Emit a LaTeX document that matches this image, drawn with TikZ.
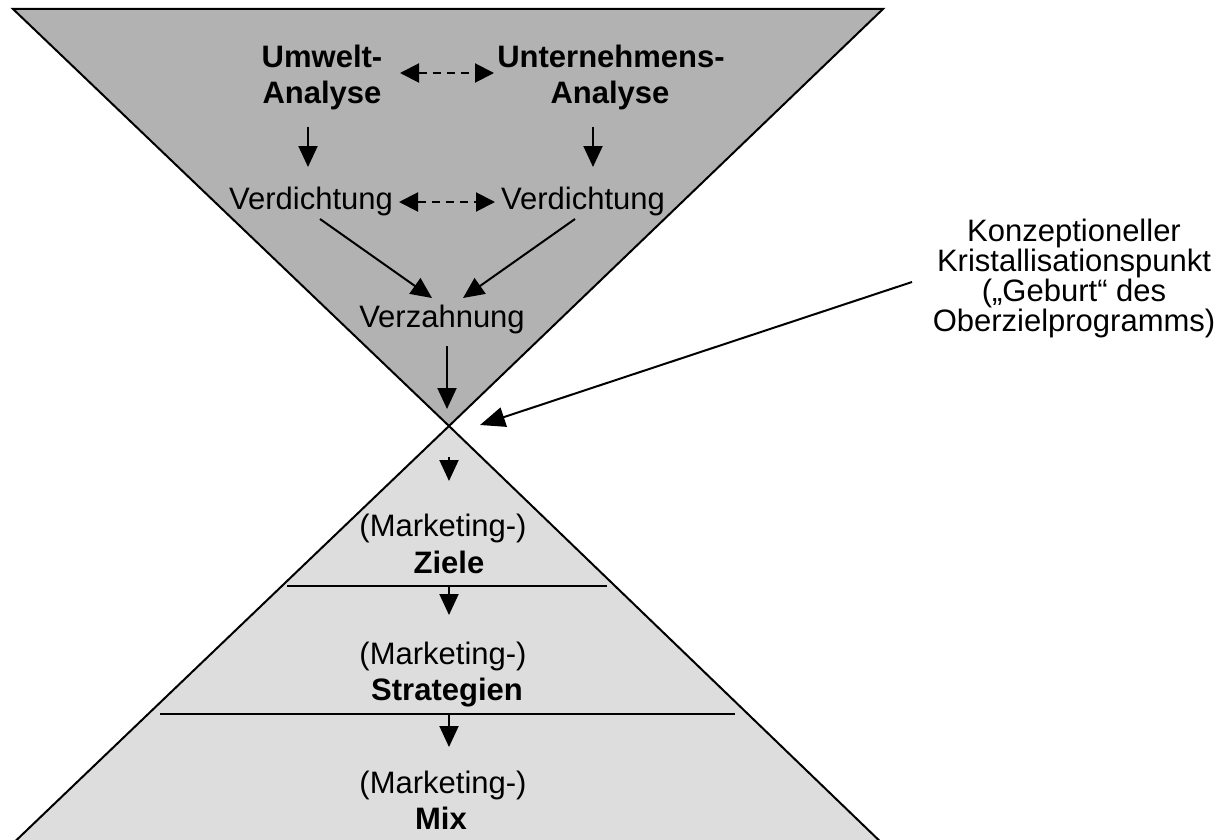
\documentclass[tikz,border=0pt]{standalone}
\usepackage{fontspec}
\setmainfont{Liberation Sans}
\usetikzlibrary{arrows.meta}
\definecolor{funnelgray}{gray}{0.70}
\definecolor{pyramidgray}{gray}{0.867}
\begin{document}
\begin{tikzpicture}[x=1pt,y=-1pt,
  txt/.style={inner sep=0pt, anchor=base, font=\fontsize{31}{36}\selectfont},
  btxt/.style={inner sep=0pt, anchor=base, font=\fontsize{31}{36}\selectfont\bfseries},
  flow/.style={line width=2pt, -{Triangle[length=21pt,width=19pt]}},
  link/.style={line width=2pt, dash pattern=on 8pt off 6pt,
    {Triangle[length=19pt,width=19pt]}-{Triangle[length=19pt,width=19pt]}},
  outline/.style={draw=black, line width=2pt, line join=miter}
]
\useasboundingbox (0,0) rectangle (1228,840);

% lower pyramid (cut at the bottom edge)
\begin{scope}
  \clip (0,0) rectangle (1228,840);
  \path[outline, fill=pyramidgray] (449,426) -- (-20,875) -- (915,875) -- cycle;
\end{scope}
% upper funnel
\path[outline, fill=funnelgray] (13,9) -- (883,9) -- (449,426) -- cycle;

% level separators in the pyramid
\draw[line width=2pt] (287,586) -- (607,586);
\draw[line width=2pt] (160,714) -- (735,714);

% analysis texts
\node[btxt] (uw1) at (322,68) {Umwelt-};
\node[btxt] (uw2) at (322,104) {Analyse};
\node[btxt] (un1) at (611,68) {Unternehmens-};
\node[btxt] (un2) at (610,104) {Analyse};
\node[txt] (vl) at (311,209) {Verdichtung};
\node[txt] (vr) at (583,209) {Verdichtung};
\node[txt] (vz) at (442,327) {Verzahnung};

% pyramid texts
\node[txt]  (m1) at (443,536) {(Marketing-)};
\node[btxt] (z)  at (449,573) {Ziele};
\node[txt]  (m2) at (443,664) {(Marketing-)};
\node[btxt] (s)  at (447,700) {Strategien};
\node[txt]  (m3) at (443,793) {(Marketing-)};
\node[btxt] (mx) at (441,829) {Mix};

% annotation (base anchor sits on the last line)
\node[txt, align=center, font=\fontsize{31}{28}\selectfont] (note) at (1074,331)
  {Konzeptioneller\\Kristallisationspunkt\\(„Geburt“ des\\Oberzielprogramms)};

% connector end points
\coordinate (a1s) at (400,73);  \coordinate (a1e) at (494,73);
\coordinate (d1s) at (308,127); \coordinate (d1e) at (308,167);
\coordinate (d2s) at (593,127); \coordinate (d2e) at (593,167);
\coordinate (a2s) at (399,202); \coordinate (a2e) at (495,202);
\coordinate (g1s) at (320,219); \coordinate (g1e) at (432,298);
\coordinate (g2s) at (575,219); \coordinate (g2e) at (463,298);
\coordinate (v1s) at (447,346); \coordinate (v1e) at (447,409);
\coordinate (v2s) at (449,457); \coordinate (v2e) at (449,481);
\coordinate (v3s) at (449,587); \coordinate (v3e) at (449,615);
\coordinate (v4s) at (449,715); \coordinate (v4e) at (449,747);
\coordinate (ns)  at (912,282); \coordinate (ne)  at (480,425);

% connectors
\draw[link] (a1s) -- (a1e);
\draw[link] (a2s) -- (a2e);
\draw[flow] (d1s) -- (d1e);
\draw[flow] (d2s) -- (d2e);
\draw[flow] (g1s) -- (g1e);
\draw[flow] (g2s) -- (g2e);
\draw[flow] (v1s) -- (v1e);
\draw[flow] (v2s) -- (v2e);
\draw[flow] (v3s) -- (v3e);
\draw[flow] (v4s) -- (v4e);
\draw[flow, -{Triangle[length=25pt,width=20pt]}] (ns) -- (ne);
\end{tikzpicture}
\end{document}
